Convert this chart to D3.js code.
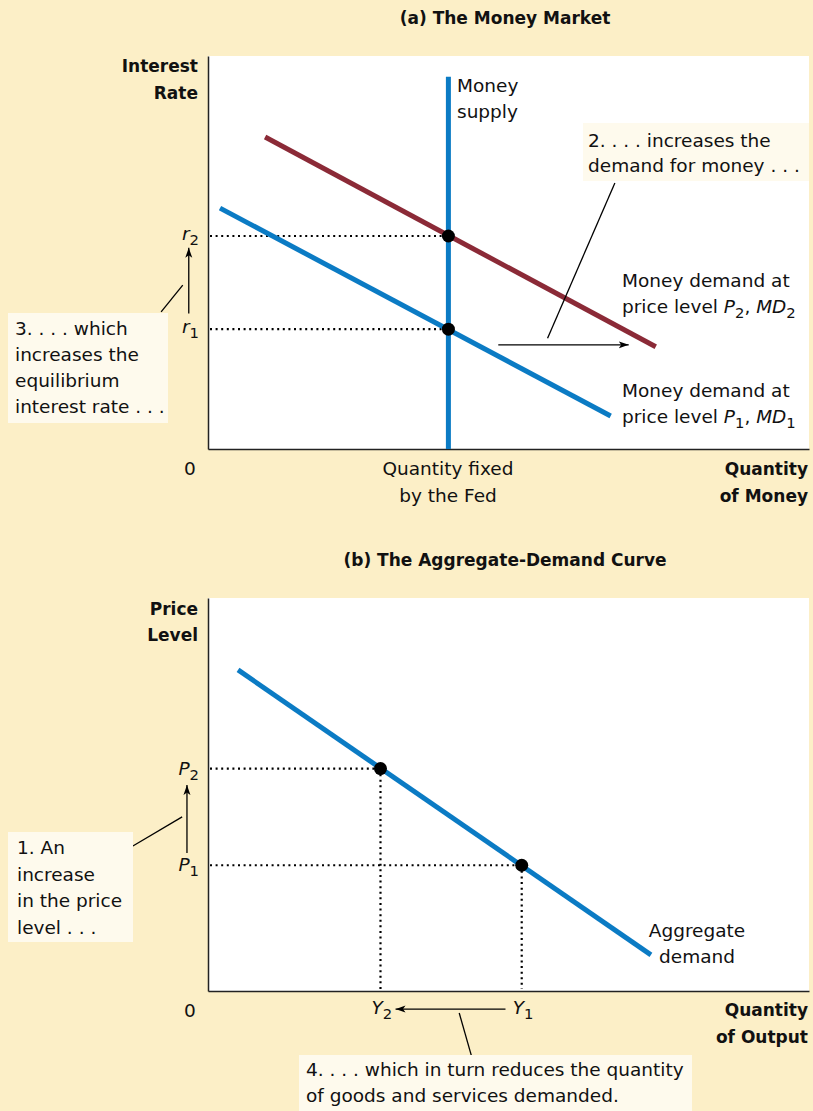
<!DOCTYPE html>
<html>
<head>
<meta charset="utf-8">
<script src="https://cdn.jsdelivr.net/npm/d3@7"></script>
<style>
  body { margin: 0; background: #fcefc7; }
  svg { display: block; }
  text { font-family: "DejaVu Sans", sans-serif; fill: #111; }
  .bold { font-weight: bold; font-size: 17px; }
  .reg { font-size: 18.5px; }
</style>
</head>
<body>
<div id="plot"></div>
<script>
const WIDTH = 813;
const HEIGHT = 1111;
const BG = "#fcefc7";
const BOX = "#fefaed";
const BLUE = "#0b7bc4";
const RED = "#8b2a37";

// panel (a) the money market, data units 0..10
const moneySupplyQ = 4.0;
const moneySupplyTop = 9.47;
const md1 = [[0.2, 6.13], [6.7, 0.84]];
const md2 = [[0.95, 7.94], [7.45, 2.6]];
const rateEq = [{q: 4.0, r: 5.42, sub: "2"}, {q: 4.0, r: 3.05, sub: "1"}];

// panel (b) the aggregate demand curve
const ad = [[0.5, 8.17], [7.37, 0.92]];
const priceEq = [{q: 2.87, p: 5.66, sub: "2"}, {q: 5.22, p: 3.2, sub: "1"}];

// annotation arrows and leader lines (data units)
const rateArrow = [[-0.32, 3.45], [-0.32, 5.12]];
const rateLeader = [[-0.78, 3.49], [-0.42, 4.17]];
const mdArrow = [[4.83, 2.65], [7.0, 2.65]];
const mdLeader = [[6.77, 6.77], [5.65, 2.82]];
const priceArrow = [[-0.35, 3.51], [-0.35, 5.24]];
const priceLeader = [[-1.25, 3.69], [-0.43, 4.43]];
const outputArrow = [[4.95, -0.46], [3.12, -0.46]];
const outputLeader = [[4.18, -0.56], [4.38, -1.63]];

const XA = d3.scaleLinear().domain([0, 10]).range([208, 809]);
const YA = d3.scaleLinear().domain([0, 10]).range([449, 56]);
const XB = d3.scaleLinear().domain([0, 10]).range([208, 809]);
const YB = d3.scaleLinear().domain([0, 10]).range([991, 598]);

const SVG = d3.select("#plot").append("svg")
    .attr("width", WIDTH)
    .attr("height", HEIGHT);

SVG.append("rect").attr("width", WIDTH).attr("height", HEIGHT).attr("fill", BG);

const defs = SVG.append("defs");
defs.append("marker")
    .attr("id", "head")
    .attr("viewBox", "0 0 10 10")
    .attr("refX", 10).attr("refY", 5)
    .attr("markerWidth", 10).attr("markerHeight", 10)
    .attr("markerUnits", "userSpaceOnUse")
    .attr("orient", "auto")
  .append("path")
    .attr("d", "M0,1.5 L10,5 L0,8.5 L2.5,5 Z")
    .attr("fill", "#000");

// rich text: segments {t, i (italic), s (subscript)}
function rich(sel, x, y, segs, cls, anchor) {
  const t = sel.append("text")
      .attr("x", x).attr("y", y)
      .attr("class", cls || "reg")
      .attr("text-anchor", anchor || "start");
  let down = false;
  segs.forEach((s) => {
    const sp = t.append("tspan").text(s.t);
    if (s.i) sp.attr("font-style", "italic");
    if (s.s && !down) { sp.attr("dy", 5).attr("font-size", "0.8em"); down = true; }
    else if (!s.s && down) { sp.attr("dy", -5); down = false; }
    else if (s.s) sp.attr("font-size", "0.8em");
  });
  return t;
}

function lines(sel, x, y0, step, arr, cls, anchor) {
  arr.forEach((s, i) => {
    sel.append("text")
        .attr("x", x).attr("y", y0 + i * step)
        .attr("class", cls || "reg")
        .attr("text-anchor", anchor || "start")
        .text(s);
  });
}

function drawPanel(X, Y) {
  SVG.append("rect")
      .attr("x", X(0)).attr("y", Y(10))
      .attr("width", X(10) - X(0)).attr("height", Y(0) - Y(10))
      .attr("fill", "#fff");
  SVG.append("g")
      .attr("transform", "translate(" + X(0) + ",0)")
      .call(d3.axisLeft(Y).tickValues([]).tickSizeOuter(0))
      .select(".domain").attr("stroke", "#222").attr("stroke-width", 1.5);
  SVG.append("g")
      .attr("transform", "translate(0," + Y(0) + ")")
      .call(d3.axisBottom(X).tickValues([]).tickSizeOuter(0))
      .select(".domain").attr("stroke", "#222").attr("stroke-width", 1.5);
}

function seg(X, Y, pts, arrow) {
  const l = SVG.append("line")
      .attr("x1", X(pts[0][0])).attr("y1", Y(pts[0][1]))
      .attr("x2", X(pts[1][0])).attr("y2", Y(pts[1][1]))
      .attr("stroke", "#000").attr("stroke-width", 1.3);
  if (arrow) l.attr("marker-end", "url(#head)");
}

function box(x, y, w, h) {
  SVG.append("rect").attr("x", x).attr("y", y).attr("width", w).attr("height", h).attr("fill", BOX);
}

const curve = d3.line().x((d) => d[0]).y((d) => d[1]);

// ---------- panel (a)
SVG.append("text").attr("class", "bold").attr("x", 505).attr("y", 24)
    .attr("text-anchor", "middle").text("(a) The Money Market");
drawPanel(XA, YA);

// dotted guides to r1, r2
SVG.selectAll("line.ra").data(rateEq).enter().append("line")
    .attr("x1", XA(0) + 2).attr("x2", (d) => XA(d.q))
    .attr("y1", (d) => YA(d.r)).attr("y2", (d) => YA(d.r))
    .attr("stroke", "#000").attr("stroke-width", 2.2)
    .attr("stroke-dasharray", "2 3.6");

SVG.append("line")
    .attr("x1", XA(moneySupplyQ)).attr("x2", XA(moneySupplyQ))
    .attr("y1", YA(0)).attr("y2", YA(moneySupplyTop))
    .attr("stroke", BLUE).attr("stroke-width", 5);

SVG.append("path").attr("d", curve(md1.map((d) => [XA(d[0]), YA(d[1])])))
    .attr("stroke", BLUE).attr("stroke-width", 5).attr("fill", "none");
SVG.append("path").attr("d", curve(md2.map((d) => [XA(d[0]), YA(d[1])])))
    .attr("stroke", RED).attr("stroke-width", 5).attr("fill", "none");

SVG.selectAll("circle.ra").data(rateEq).enter().append("circle")
    .attr("cx", (d) => XA(d.q)).attr("cy", (d) => YA(d.r)).attr("r", 6.5).attr("fill", "#000");

rateEq.forEach((d) => {
  rich(SVG, 199, YA(d.r) + 4, [{t: "r", i: true}, {t: d.sub, s: true}], "reg", "end");
});

lines(SVG, 198, 72, 27, ["Interest", "Rate"], "bold", "end");
lines(SVG, 457, 92, 26, ["Money", "supply"]);

seg(XA, YA, rateArrow, true);
seg(XA, YA, rateLeader, false);
seg(XA, YA, mdArrow, true);
seg(XA, YA, mdLeader, false);

box(8, 313, 160, 110);
lines(SVG, 15, 335, 26, ["3. . . . which", "increases the", "equilibrium", "interest rate . . ."]);
box(583, 123, 226, 58);
lines(SVG, 588, 147, 25, ["2. . . . increases the", "demand for money . . ."]);

lines(SVG, 622, 287, 26, ["Money demand at"]);
rich(SVG, 622, 313, [{t: "price level "}, {t: "P", i: true}, {t: "2", s: true}, {t: ", "}, {t: "MD", i: true}, {t: "2", s: true}]);
lines(SVG, 622, 397, 26, ["Money demand at"]);
rich(SVG, 622, 423, [{t: "price level "}, {t: "P", i: true}, {t: "1", s: true}, {t: ", "}, {t: "MD", i: true}, {t: "1", s: true}]);

lines(SVG, 190, 475, 27, ["0"], "reg", "middle");
lines(SVG, 448, 475, 27, ["Quantity fixed", "by the Fed"], "reg", "middle");
lines(SVG, 808, 475, 27, ["Quantity", "of Money"], "bold", "end");

// ---------- panel (b)
SVG.append("text").attr("class", "bold").attr("x", 505).attr("y", 566)
    .attr("text-anchor", "middle").text("(b) The Aggregate-Demand Curve");
drawPanel(XB, YB);

SVG.selectAll("line.ph").data(priceEq).enter().append("line")
    .attr("x1", XB(0) + 2).attr("x2", (d) => XB(d.q))
    .attr("y1", (d) => YB(d.p)).attr("y2", (d) => YB(d.p))
    .attr("stroke", "#000").attr("stroke-width", 2.2)
    .attr("stroke-dasharray", "2 3.6");
SVG.selectAll("line.pv").data(priceEq).enter().append("line")
    .attr("x1", (d) => XB(d.q)).attr("x2", (d) => XB(d.q))
    .attr("y1", (d) => YB(d.p)).attr("y2", YB(0) - 2)
    .attr("stroke", "#000").attr("stroke-width", 2.2)
    .attr("stroke-dasharray", "2 3.6");

SVG.append("path").attr("d", curve(ad.map((d) => [XB(d[0]), YB(d[1])])))
    .attr("stroke", BLUE).attr("stroke-width", 5).attr("fill", "none");

SVG.selectAll("circle.pb").data(priceEq).enter().append("circle")
    .attr("cx", (d) => XB(d.q)).attr("cy", (d) => YB(d.p)).attr("r", 6.5).attr("fill", "#000");

priceEq.forEach((d) => {
  rich(SVG, 199, YB(d.p) + 6, [{t: "P", i: true}, {t: d.sub, s: true}], "reg", "end");
  rich(SVG, XB(d.q) - 9, 1014, [{t: "Y", i: true}, {t: d.sub, s: true}], "reg", "start");
});

lines(SVG, 198, 615, 26, ["Price", "Level"], "bold", "end");

seg(XB, YB, priceArrow, true);
seg(XB, YB, priceLeader, false);
seg(XB, YB, outputArrow, true);
seg(XB, YB, outputLeader, false);

box(8, 832, 125, 110);
lines(SVG, 17, 854, 26.5, ["1. An", "increase", "in the price", "level . . ."]);
box(299, 1055, 393, 56);
lines(SVG, 306, 1076, 26, ["4. . . . which in turn reduces the quantity", "of goods and services demanded."]);

lines(SVG, 697, 937, 26, ["Aggregate", "demand"], "reg", "middle");

lines(SVG, 190, 1017, 27, ["0"], "reg", "middle");
lines(SVG, 808, 1016, 27, ["Quantity", "of Output"], "bold", "end");
</script>
</body>
</html>
